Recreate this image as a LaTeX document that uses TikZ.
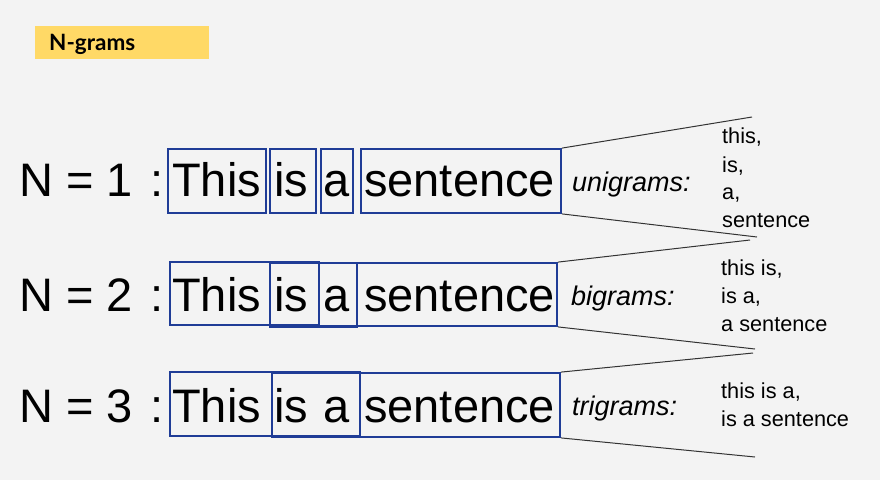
\documentclass[tikz,border=0pt]{standalone}
\usepackage{fontspec}
\setmainfont{Liberation Sans}
\newfontfamily\headfont{Lato}
\usetikzlibrary{fit}
\definecolor{bgc}{HTML}{F3F3F3}
\definecolor{hdr}{HTML}{FFD966}
\definecolor{boxblue}{HTML}{1F3C96}
\definecolor{fanline}{HTML}{333333}
\tikzset{
  wbox/.style={draw=boxblue, line width=1.8pt, inner sep=0pt, fill=none},
  bigtxt/.style={anchor=base west, inner sep=0pt, font=\fontsize{47}{50}\selectfont},
  lbltxt/.style={anchor=base west, inner sep=0pt, font=\fontsize{27}{30}\selectfont\itshape},
  listtxt/.style={anchor=base west, inner sep=0pt, font=\fontsize{21.7}{28}\selectfont},
  fan/.style={draw=fanline, line width=1pt}
}
\begin{document}
\begin{tikzpicture}[x=1pt,y=-1pt]
\fill[bgc] (0,0) rectangle (880,480);
\useasboundingbox (0,0) rectangle (880,480);
% header
\node[fill=hdr, inner sep=0pt, fit={(35,26) (209,59)}] (hdrbox) {};
\node[anchor=base west, inner sep=0pt, font=\headfont\bfseries\fontsize{22.5}{26}\selectfont] (hdrtxt) at (49,50) {N-grams};

% row labels
\node[bigtxt] (n1) at (19,196) {N = 1\hspace{5pt} :};
\node[bigtxt] (n2) at (19,311) {N = 2\hspace{5pt} :};
\node[bigtxt] (n3) at (19,422) {N = 3\hspace{5pt} :};

% words
\foreach \r/\y in {1/196, 2/311, 3/422}{
  \node[bigtxt] (w\r a) at (172,\y) {This};
  \node[bigtxt] (w\r b) at (274,\y) {is};
  \node[bigtxt] (w\r c) at (323,\y) {a};
  \node[bigtxt] (w\r d) at (364,\y) {sentence};
}

% row 1 boxes (unigrams)
\node[wbox, fit={(168,149) (266,213)}] (r1a) {};
\node[wbox, fit={(270,149) (316,213)}] (r1b) {};
\node[wbox, fit={(321,149) (353,213)}] (r1c) {};
\node[wbox, fit={(361,149) (561,213)}] (r1d) {};
% row 2 boxes (bigrams)
\node[wbox, fit={(170,262) (319,325)}] (r2a) {};
\node[wbox, fit={(270,263) (357,327)}] (r2b) {};
\node[wbox, fit={(319,263) (557,326)}] (r2c) {};
% row 3 boxes (trigrams)
\node[wbox, fit={(170,372) (360,436)}] (r3a) {};
\node[wbox, fit={(272,373) (560,437)}] (r3b) {};

% fan end points
\coordinate (c1t) at (752,117);
\coordinate (c1b) at (757,237);
\coordinate (c2t) at (750,240);
\coordinate (c2b) at (755,349);
\coordinate (c3t) at (753,353);
\coordinate (c3b) at (755,457);
\draw[fan] (r1d.north east) -- (c1t);
\draw[fan] (r1d.south east) -- (c1b);
\draw[fan] (r2c.north east) -- (c2t);
\draw[fan] (r2c.south east) -- (c2b);
\draw[fan] (r3b.north east) -- (c3t);
\draw[fan] (r3b.south east) -- (c3b);

% labels
\node[lbltxt] (l1) at (572,191) {unigrams:};
\node[lbltxt] (l2) at (571,305) {bigrams:};
\node[lbltxt] (l3) at (572,415) {trigrams:};

% lists
\node[listtxt] (u1) at (722,143) {this,};
\node[listtxt] (u2) at (722,172) {is,};
\node[listtxt] (u3) at (722,199) {a,};
\node[listtxt] (u4) at (722,227) {sentence};
\node[listtxt] (b1) at (721,275) {this is,};
\node[listtxt] (b2) at (721,303) {is a,};
\node[listtxt] (b3) at (721,331) {a sentence};
\node[listtxt] (t1) at (721,398) {this is a,};
\node[listtxt] (t2) at (721,426) {is a sentence};
\end{tikzpicture}
\end{document}
